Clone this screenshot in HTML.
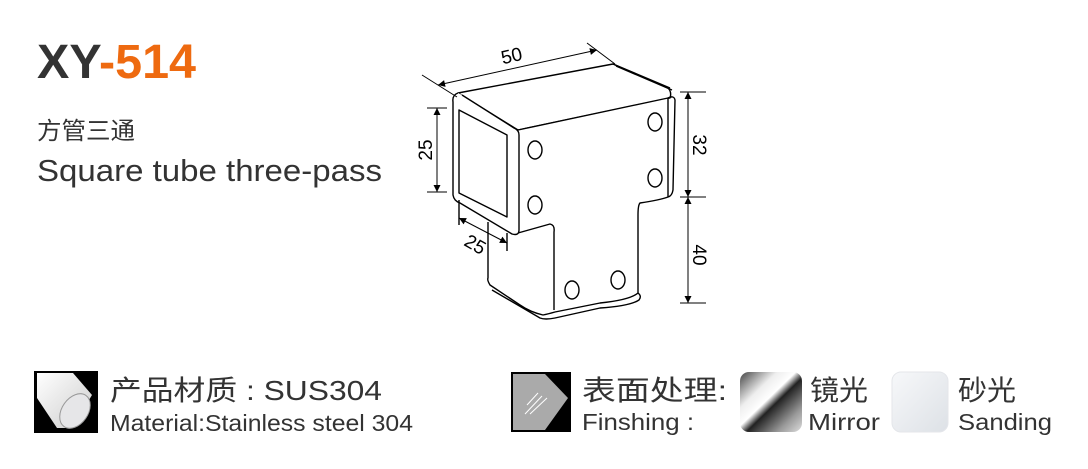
<!DOCTYPE html>
<html><head><meta charset="utf-8"><style>
html,body{margin:0;padding:0;background:#fff;width:1088px;height:469px;overflow:hidden}
</style></head><body>
<svg width="1088" height="469" viewBox="0 0 1088 469" xmlns="http://www.w3.org/2000/svg" font-family="Liberation Sans, Noto Sans CJK SC, sans-serif">
<defs>
<marker id="a" viewBox="0 0 10 10" refX="10" refY="5" markerWidth="12" markerHeight="7" orient="auto-start-reverse" markerUnits="userSpaceOnUse"><path d="M0,0L10,5L0,10z" fill="#000"/></marker>
<linearGradient id="mir" x1="0" y1="0" x2="1" y2="1">
<stop offset="0" stop-color="#444"/><stop offset="0.3" stop-color="#eee"/><stop offset="0.45" stop-color="#fff"/><stop offset="0.55" stop-color="#222"/><stop offset="0.8" stop-color="#999"/><stop offset="1" stop-color="#ddd"/></linearGradient>
<linearGradient id="snd" x1="0" y1="0" x2="1" y2="1"><stop offset="0" stop-color="#f7f8fa"/><stop offset="1" stop-color="#dde1e6"/></linearGradient>
<linearGradient id="cyl" x1="0" y1="0" x2="1" y2="1"><stop offset="0" stop-color="#fff"/><stop offset="1" stop-color="#ccc"/></linearGradient>
</defs>
<!-- title -->
<text x="37" y="78" font-size="48" font-weight="bold" fill="#333" textLength="159" lengthAdjust="spacingAndGlyphs">XY<tspan fill="#ee6a10">-514</tspan></text>
<text x="37" y="139" font-size="24" fill="#333" textLength="98" lengthAdjust="spacingAndGlyphs">方管三通</text>
<text x="37" y="181" font-size="31" fill="#333" textLength="345" lengthAdjust="spacingAndGlyphs">Square tube three-pass</text>

<!-- drawing -->
<g fill="none" stroke="#000" stroke-width="1.4" stroke-linejoin="round">
<path d="M458,93 L613,64 L668,88 Q672,92 670,98 L518,130 Z" fill="#fff"/>
<path d="M613,64 L670,88 M616,66 L672,90"/>
<path d="M518,130 L668,98 L668,197 Q660,200 640,203 Q638,205 638,215 L638,293 Q630,300 600,303 L555,312 Q548,314 543,315 Q530,312 520,305 L490,285 Q487,280 488,278 L488,222" fill="#fff"/>
<path d="M668,98 Q674,95 675,100 L673,190 Q672,196 668,197"/>
<path d="M638,293 Q642,296 639,300 Q630,306 600,308 L555,318 Q545,320 540,318 L492,290"/>
<path d="M518,233 L550,224 Q555,225 554,232 L554,310"/>
<path d="M458,93 Q452,95 453,102 L453,195 Q454,201 460,203 L512,234 Q519,236 519,230 L519,135 Q519,130 514,128 L462,95" fill="#fff"/>
<path d="M459,110 L507,135 L507,217 L459,193 Z"/>
<path d="M459,200 L459,225 M507,233 L507,251"/>
<ellipse cx="535" cy="150" rx="7" ry="9"/>
<ellipse cx="535" cy="205" rx="7" ry="9"/>
<ellipse cx="655" cy="122" rx="7" ry="9"/>
<ellipse cx="655" cy="178" rx="7" ry="9"/>
<ellipse cx="572" cy="290" rx="7" ry="9"/>
<ellipse cx="618" cy="280" rx="7" ry="9"/>
</g>
<!-- dimensions -->
<g stroke="#000" stroke-width="1" fill="none">
<path d="M422,75 L457,97 M587,43 L615,64"/>
<line x1="438" y1="85" x2="597" y2="50" marker-start="url(#a)" marker-end="url(#a)"/>
<path d="M427,108 L447,108 M427,192 L447,192"/>
<line x1="437" y1="108" x2="437" y2="192" marker-start="url(#a)" marker-end="url(#a)"/>
<path d="M680,92 L706,92 M680,197 L706,197 M680,303 L706,303"/>
<line x1="688" y1="92" x2="688" y2="197" marker-start="url(#a)" marker-end="url(#a)"/>
<line x1="688" y1="197" x2="688" y2="303" marker-start="url(#a)" marker-end="url(#a)"/>
<line x1="459" y1="218" x2="507" y2="243" marker-start="url(#a)" marker-end="url(#a)"/>
</g>
<g font-size="19" fill="#000">
<text x="513" y="62" text-anchor="middle" transform="rotate(-13 513 62)">50</text>
<text x="432" y="150" text-anchor="middle" transform="rotate(-90 432 150)">25</text>
<text x="693" y="145" text-anchor="middle" transform="rotate(90 693 145)">32</text>
<text x="693" y="255" text-anchor="middle" transform="rotate(90 693 255)">40</text>
<text x="472" y="250" text-anchor="middle" transform="rotate(30 472 250)">25</text>
</g>

<!-- material -->
<rect x="34" y="371" width="64" height="62" fill="#000"/>
<path d="M37,373 L73,373 L92,395 L72,428 L57,428 L37,398 Z" fill="url(#cyl)"/>
<ellipse cx="75" cy="411" rx="19" ry="13" transform="rotate(-55 75 411)" fill="#e6e6e8" stroke="#999"/>
<text x="110" y="400" font-size="28" fill="#333" textLength="272" lengthAdjust="spacingAndGlyphs">产品材质 : SUS304</text>
<text x="110" y="431" font-size="23" fill="#333" textLength="303" lengthAdjust="spacingAndGlyphs">Material:Stainless steel 304</text>

<!-- finishing -->
<rect x="511" y="372" width="60" height="60" fill="#000"/>
<path d="M513,374 L545,374 L568,398 L545,430 L513,430 Z" fill="#aaa"/>
<path d="M527,405 L538,393 M525,414 L542,396 M530,414 L547,398" stroke="#fff" stroke-width="1"/>
<text x="582" y="400" font-size="28" fill="#333" textLength="145" lengthAdjust="spacingAndGlyphs">表面处理:</text>
<text x="582" y="430" font-size="23" fill="#333" textLength="112" lengthAdjust="spacingAndGlyphs">Finshing :</text>
<rect x="740" y="372" width="62" height="60" rx="9" fill="url(#mir)"/>
<text x="810" y="400" font-size="28" fill="#333" textLength="58" lengthAdjust="spacingAndGlyphs">镜光</text>
<text x="808" y="430" font-size="23" fill="#333" textLength="72" lengthAdjust="spacingAndGlyphs">Mirror</text>
<rect x="892" y="372" width="56" height="60" rx="9" fill="url(#snd)" stroke="#e4e6ea"/>
<text x="958" y="400" font-size="28" fill="#333" textLength="58" lengthAdjust="spacingAndGlyphs">砂光</text>
<text x="958" y="430" font-size="23" fill="#333" textLength="94" lengthAdjust="spacingAndGlyphs">Sanding</text>
</svg>
</body></html>
